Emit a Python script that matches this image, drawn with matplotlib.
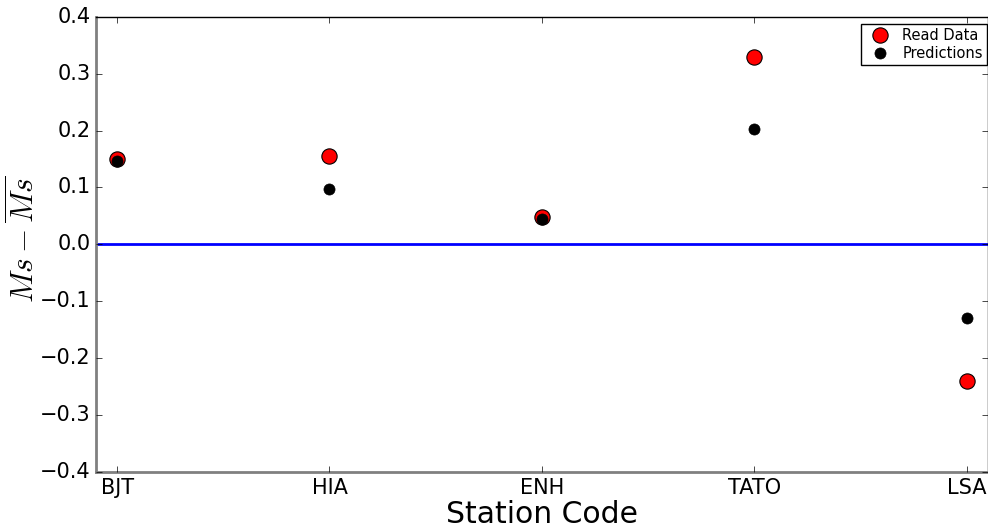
import numpy as np
import matplotlib.pyplot as plt

# station residuals
stations = ['BJT', 'HIA', 'ENH', 'TATO', 'LSA']
read_data = [0.150, 0.156, 0.049, 0.330, -0.240]
predictions = [0.146, 0.098, 0.044, 0.203, -0.129]

plt.style.use('classic')
plt.rcParams['mathtext.fontset'] = 'cm'
fig = plt.figure(figsize=(9.88, 5.25), dpi=100)
ax = fig.add_axes([0.097, 0.101, 0.903, 0.867])

x = np.arange(len(stations))
ax.axhline(0, color='blue', lw=2)
ax.plot(x, read_data, 'o', color='red', mec='black', mew=0.8, ms=11, label='Read Data')
ax.plot(x, predictions, 'o', color='black', ms=8, label='Predictions')

ax.set_xlim(-0.1, 4.1)
ax.set_ylim(-0.4, 0.4)
ax.set_xticks(x)
ax.set_xticklabels(stations, fontsize=15)
ax.tick_params(axis='y', labelsize=15)
ax.set_xlabel('Station Code', fontsize=21.5, labelpad=2)
ax.set_ylabel(r'$Ms-\overline{Ms}$', fontsize=22.5)
ax.yaxis.set_label_coords(-0.062, 0.51)

for s in ['left', 'bottom']:
    ax.spines[s].set_color('gray')
    ax.spines[s].set_linewidth(2)

ax.legend(loc='upper right', bbox_to_anchor=(0.999, 0.985), borderaxespad=0,
          numpoints=1, fontsize=10.5, fancybox=False,
          borderpad=0.3, handletextpad=0.5, labelspacing=0.2)

fig.savefig('out.png', dpi=100)
